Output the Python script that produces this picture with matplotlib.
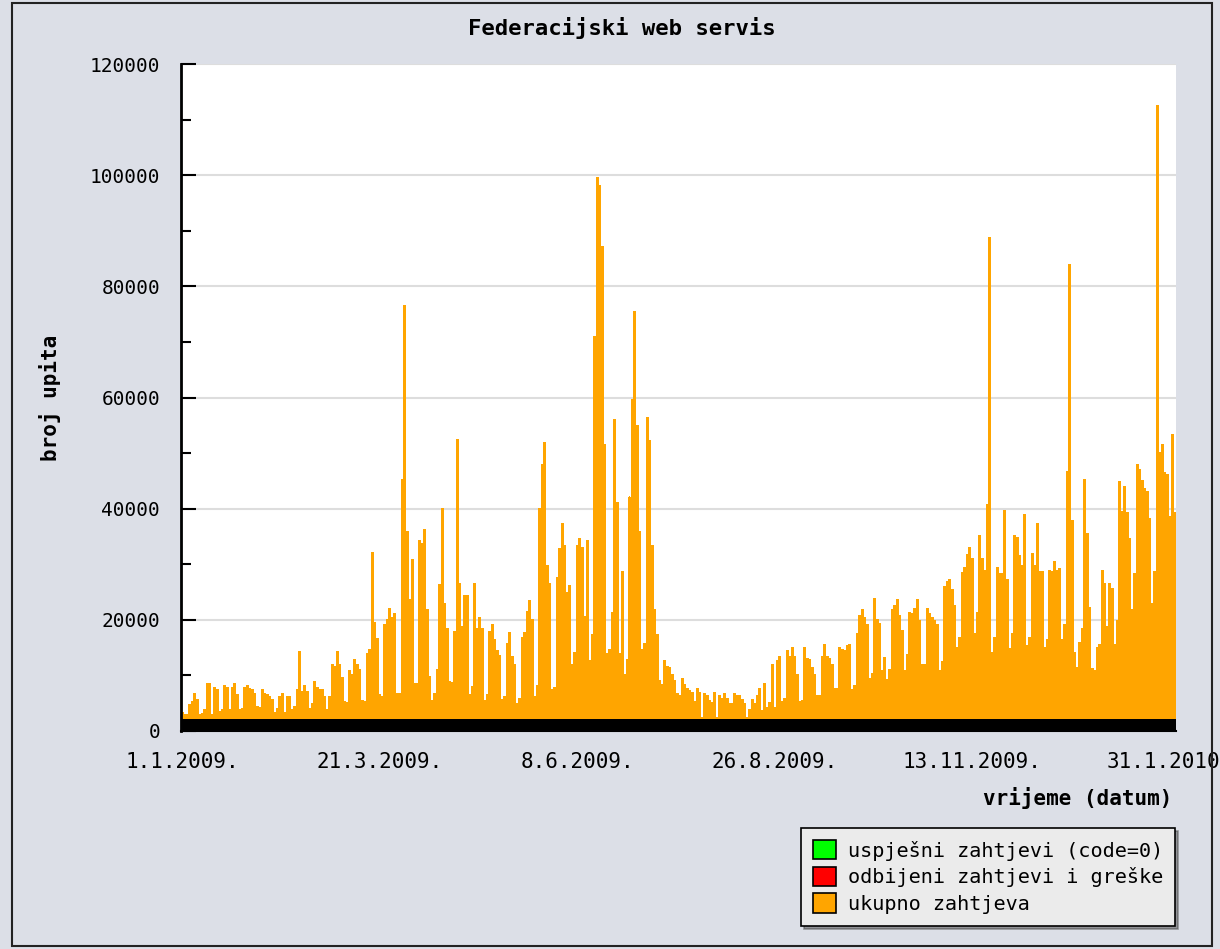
import datetime as dt
import matplotlib
matplotlib.use('Agg')
import matplotlib.pyplot as plt
from matplotlib.patches import Patch, Rectangle
import numpy as np

# Dnevni ukupni broj upita, 1.1.2009. - 3.2.2010. (ocitano sa slike)
ukupno_jan_mar = [
    3360, 2900, 3000, 4700, 5300, 6800, 5700, 2900, 3200, 3800, 8500, 8500, 2900, 7900, 7400, 3500,
    3800, 8200, 7900, 3800, 7900, 8500, 6500, 3800, 4100, 7900, 8200, 7600, 7500, 6800, 4400, 4300,
    7500, 6800, 6500, 6200, 5700, 3300, 4100, 6200, 6800, 3300, 6200, 6200, 3800, 4400, 7500, 14300,
    7100, 8100, 7100, 4100, 5000, 8900, 7900, 7500, 7400, 6200, 3800, 6200, 11900, 11600, 14300, 11900,
    9700, 5300, 5100,
]
ukupno_mar_maj = [
    10900, 10200, 12800, 12000, 11000, 5500, 5300, 14000, 14700, 32100, 19500, 16700, 6500, 6200, 19100, 20000,
    22100, 20500, 21200, 6800, 6800, 45200, 76500, 35900, 23600, 30800, 8600, 8600, 34200, 33800, 36300, 21800,
    9800, 5500, 6800, 11000, 26300, 40100, 23000, 18500, 8900, 8700, 17900, 52400, 26500, 18800, 24300, 24300,
    6500, 8000, 26500, 18500, 20500, 18500, 5500, 6500, 17900, 19100, 16400, 14500, 13500, 5600, 6200, 15700,
    17700, 13400,
]
ukupno_maj_jul = [
    11900, 5000, 5800, 16900, 17700, 21500, 23500, 20000, 6200, 8200, 40100, 47900, 51900, 29700, 26600, 7400,
    7800, 27600, 32800, 37400, 33400, 25000, 26200, 11900, 14200, 33300, 34700, 33000, 20600, 34300, 12600, 17300,
    70900, 99600, 98100, 87200, 51600, 14000, 14600, 21400, 56000, 41100, 14000, 28700, 10100, 12900, 42100, 59700,
    75400, 55000, 35900, 14600, 15700, 56400, 52300, 33400, 21900, 17400, 9100, 8400, 12600, 11600, 11500, 10100,
    9000, 6800, 6400,
]
ukupno_jul_sep = [
    9400, 8300, 7600, 7300, 7000, 5300, 7700, 7000, 2400, 6700, 6400, 5500, 5100, 7000, 2500, 6400,
    5900, 6700, 5900, 5000, 5000, 6700, 6400, 6400, 5700, 4900, 2400, 3900, 5600, 4900, 6300, 7700,
    3700, 8600, 4300, 5100, 12000, 4300, 12600, 13400, 5300, 5900, 14400, 13400, 15000, 13400, 10200, 5300,
    5500, 15000, 13000, 12800, 11400, 10100, 6400, 6400, 13400, 15600, 13400, 13000, 12000, 7600, 7700, 15000,
    14700, 14400, 15400,
]
ukupno_sep_dec = [
    15500, 7500, 8100, 17600, 20700, 21800, 20500, 19100, 9500, 10400, 23800, 20000, 19400, 10900, 13200, 9200,
    11000, 21800, 22500, 23600, 20700, 18000, 10900, 13700, 21300, 21200, 22100, 23600, 19900, 12000, 12000, 22100,
    21100, 20500, 19900, 19100, 10900, 12500, 26000, 26900, 27300, 25500, 22500, 15100, 16900, 28600, 29400, 31700,
    33100, 31100, 17600, 21300, 35100, 31100, 28800, 40700, 88800, 14100, 16900, 29400, 28300, 28300, 39600, 27300,
    14900, 17600,
]
ukupno_dec_feb = [
    35100, 34900, 31600, 29700, 39000, 15300, 16900, 32000, 29700, 37400, 28700, 28700, 15000, 16500, 28900, 28700,
    30500, 28900, 29300, 16500, 19100, 46700, 83900, 37800, 14200, 11500, 16000, 18400, 45200, 35500, 22200, 11300,
    10900, 15000, 15500, 28900, 26600, 18800, 26600, 25600, 15500, 19800, 44800, 39500, 44000, 39400, 34600, 21900,
    28400, 47900, 47100, 45000, 43600, 43100, 38200, 22900, 28700, 112600, 50100, 51600, 46500, 46100, 38600, 53300,
    39400,
]
ukupno = (ukupno_jan_mar + ukupno_mar_maj + ukupno_maj_jul
          + ukupno_jul_sep + ukupno_sep_dec + ukupno_dec_feb)

# crna traka pri dnu (uspjesni zahtjevi, nacrtani crno)
uspjesni_visina = 2100

pocetak = dt.date(2009, 1, 1)
oznake_datumi = [dt.date(2009, 1, 1), dt.date(2009, 3, 21), dt.date(2009, 6, 8),
                 dt.date(2009, 8, 26), dt.date(2009, 11, 13), dt.date(2010, 1, 31)]
oznake_tekst = ['1.1.2009.', '21.3.2009.', '8.6.2009.', '26.8.2009.', '13.11.2009.', '31.1.2010.']

legenda_tekst = ['uspješni zahtjevi (code=0)', 'odbijeni zahtjevi i greške', 'ukupno zahtjeva']
legenda_boje = ['#00FF00', '#FF0000', '#FFA500']

POZADINA = '#DCDFE7'
MONO = 'DejaVu Sans Mono'

fig = plt.figure(figsize=(12.2, 9.49), dpi=100, facecolor=POZADINA)
ax = fig.add_axes([181 / 1220, 1 - 731 / 949, (1176 - 181) / 1220, (731 - 64) / 949])

dani = np.arange(len(ukupno))
stupci = ax.bar(dani, ukupno, width=0.92, color='#FFA500', linewidth=0, zorder=2)
traka = ax.bar(dani, [uspjesni_visina] * len(dani), width=0.92, color='black', linewidth=0, zorder=3)
for p in list(stupci) + list(traka):
    p.set_antialiased(False)
    p.set_snap(False)

ax.set_xlim(-0.5, len(ukupno) - 0.5)
ax.set_ylim(0, 120000)

ax.set_xticks([(d - pocetak).days for d in oznake_datumi])
ax.set_xticklabels(oznake_tekst, family=MONO, fontsize=15)
ax.tick_params(axis='x', length=0, pad=15)

ax.set_yticks(np.arange(0, 120001, 20000))
ax.set_yticks(np.arange(10000, 120000, 20000), minor=True)
ax.set_yticklabels([str(v) for v in range(0, 120001, 20000)], family=MONO, fontsize=14)
ax.tick_params(axis='y', which='major', direction='in', length=11, width=1.5, pad=15)
ax.tick_params(axis='y', which='minor', direction='in', length=7, width=1.5)
ax.yaxis.grid(True, which='major', color='#DDDDDD', linewidth=1.5, zorder=0)
ax.set_axisbelow(True)

ax.spines['top'].set_visible(False)
ax.spines['right'].set_visible(False)
ax.spines['left'].set_linewidth(2)
ax.spines['bottom'].set_linewidth(1.5)

fig.text(622 / 1220, 1 - 28 / 949, 'Federacijski web servis', family=MONO, fontsize=16,
         fontweight='bold', ha='center', va='center')
fig.text(50 / 1220, 1 - 398 / 949, 'broj upita', family=MONO, fontsize=15,
         fontweight='bold', rotation=90, ha='center', va='center')
fig.text(1172 / 1220, 1 - 798 / 949, 'vrijeme (datum)', family=MONO, fontsize=15,
         fontweight='bold', ha='right', va='center')

# okvir slike
fig.patches.append(Rectangle((12 / 1220, 3 / 949), 1200 / 1220, 943 / 949, transform=fig.transFigure,
                             fill=False, edgecolor='#222222', linewidth=1.5))

rucke = [Patch(facecolor=c, edgecolor='black', linewidth=1.2) for c in legenda_boje]
leg = fig.legend(rucke, legenda_tekst, loc='upper right', bbox_to_anchor=(1175 / 1220, 1 - 828 / 949),
                 prop={'family': MONO, 'size': 14.5}, frameon=True, fancybox=False, shadow=True,
                 handlelength=1.1, handleheight=1.1, handletextpad=0.6, labelspacing=0.3,
                 borderpad=0.6, borderaxespad=0)
leg.get_frame().set_facecolor('#EBEBEB')
leg.get_frame().set_edgecolor('black')
leg.get_frame().set_linewidth(1.2)

fig.savefig('out.png', dpi=100, facecolor=POZADINA)
